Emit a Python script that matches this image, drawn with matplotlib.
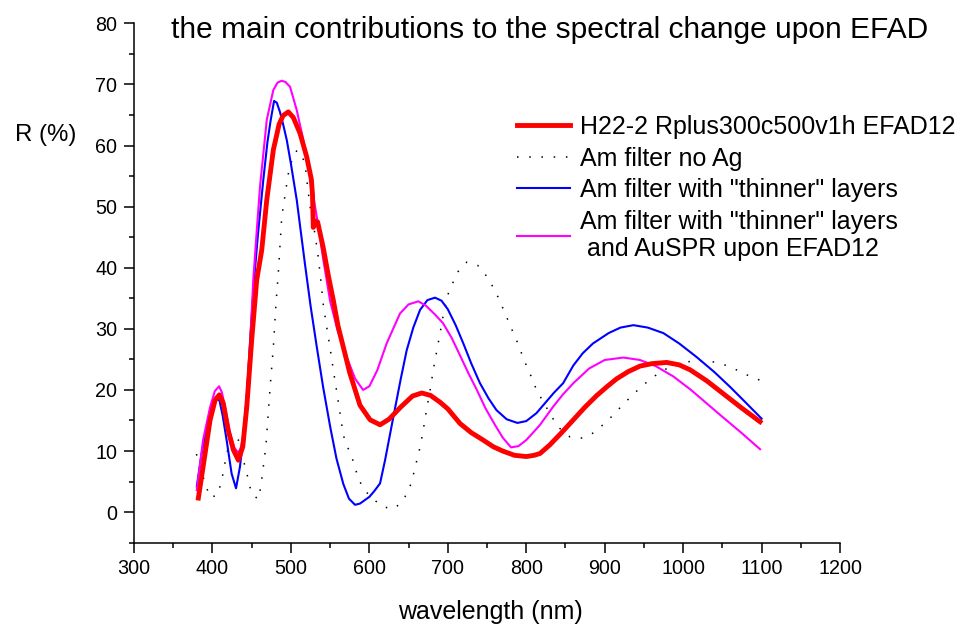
import matplotlib
matplotlib.use('Agg')
import matplotlib.pyplot as plt
from matplotlib.ticker import MultipleLocator

plt.rcParams['font.family'] = ['Liberation Sans', 'DejaVu Sans']

# H22-2 Rplus300c500v1h EFAD12 (measured, red)
wl_meas = [382, 388, 397, 403.3, 408.7, 413.8, 420, 426.6, 433, 438.6, 443.7, 450, 456.4,
           462.8, 469.2, 477.6, 485, 490, 496.7, 503, 511.6, 520, 526, 527.5, 528.5, 531,
           534, 541, 548, 554, 560, 566.8, 575, 588, 601, 613.6, 625, 640, 655, 666.8, 678,
           690, 700, 715.6, 730, 745, 758, 770, 785, 800, 810, 817.6, 830, 845, 860, 875,
           890, 902.6, 915, 930, 945, 960, 979, 995, 1008.8, 1030, 1051, 1075, 1098]
r_meas = [2.3, 7.4, 15.1, 18.3, 19.2, 17.8, 13.4, 10.2, 8.5, 10.7, 17.2, 28.2, 38.0,
          42.9, 51.1, 59.3, 63.5, 64.9, 65.5, 64.6, 62.0, 58.2, 54.5, 52.0, 46.6, 47.6,
          47.5, 43.4, 38.5, 34.7, 30.5, 27.0, 22.8, 17.5, 15.1, 14.3, 15.2, 17.2, 19.0, 19.5,
          19.1, 18.0, 16.9, 14.5, 13.0, 11.8, 10.7, 10.0, 9.3, 9.1, 9.3, 9.6, 11.0, 13.0,
          15.1, 17.2, 19.1, 20.5, 21.8, 23.0, 23.9, 24.3, 24.5, 24.1, 23.3, 21.5, 19.4, 17.0,
          14.8]

# Am filter no Ag (dotted black)
wl_noag = [379.5, 384, 388, 392, 397, 406.7, 410.4, 413.8, 416, 422, 427, 433, 440, 443.6,
           446.6, 450, 458.5, 461.5, 464.8, 468.2, 471.2, 474.2, 477.6, 481, 484, 488.3,
           492.5, 496.7, 503, 508, 512.5, 518, 521, 524.4, 529.5, 533.7, 537, 541.3, 545.6,
           550, 554, 558.4, 562.6, 566.8, 571, 577.5, 586, 593, 605, 618.7, 632.7, 644.6,
           651, 655.3, 658.2, 662.4, 668, 672.3, 677.4, 681.6, 686.7, 694.3, 700.7, 706.3,
           712.6, 724, 738, 749.6, 757.3, 764.4, 770.8, 776.4, 782.3, 788, 793.4, 798.5, 805,
           810, 817, 824.6, 832.5, 841.8, 855.8, 869.5, 882.6, 896, 910.2, 922.5, 935.7, 950,
           964, 977.8, 991.8, 1005.4, 1019.4, 1033, 1047, 1060.7, 1074.7, 1088.3, 1098]
r_noag = [9.5, 7.7, 5.8, 4.2, 2.4, 2.8, 4.6, 6.5, 8.1, 11.8, 12.6, 11.8, 8.2, 6.5,
          4.7, 3.0, 2.1, 4.1, 7.4, 11.0, 16.4, 21.6, 27.0, 34.2, 39.3, 48.3,
          51.9, 55.4, 58.5, 59.2, 58.8, 57.0, 53.5, 50.0, 46.4, 42.9, 39.3, 33.9, 30.3,
          26.8, 23.3, 19.7, 16.2, 12.6, 11.0, 9.1, 5.5, 3.7, 2.1, 0.8, 0.6, 2.3,
          3.9, 5.6, 7.4, 9.3, 12.9, 16.3, 19.9, 23.4, 26.9, 32.3, 35.8, 37.5,
          39.3, 40.9, 40.4, 38.6, 36.9, 35.1, 33.2, 31.5, 29.7, 28.0, 26.2, 24.5, 22.6,
          20.9, 19.1, 17.4, 15.6, 13.8, 12.3, 12.1, 12.7, 14.1, 15.8, 17.5, 19.2, 20.9,
          22.3, 23.4, 24.2, 24.6, 24.8, 24.7, 24.4, 23.7, 22.9, 22.0, 21.6]

# Am filter with "thinner" layers (blue)
wl_thin = [380, 386, 392.7, 398, 404.5, 409, 413, 418, 424.4, 430, 435, 437, 440, 443.7,
           448.8, 453, 458, 464.8, 470, 474, 478.5, 482, 486, 490, 494.7, 500, 507.4, 513,
           518, 525, 533, 541, 550, 558, 566.8, 574, 581.7, 588, 600, 606, 613.6,
           620, 630.6, 640, 647.6, 656, 664.6, 674, 683.7, 692, 700, 710, 719.8, 730, 741,
           752, 762, 775, 788.7, 800, 813, 825, 835, 847, 860, 872, 885, 905, 920, 936.6,
           955, 974.8, 995, 1017, 1040, 1059.8, 1080, 1100]
r_thin = [4.2, 9.5, 14.0, 17.0, 18.9, 18.2, 15.8, 11.8, 6.3, 3.9, 7.4, 9.6, 13.5, 18.9,
          29.8, 38.0, 45.5, 54.4, 60.5, 64.0, 67.3, 67.0, 65.5, 63.5, 60.9, 57.0, 51.1, 45.5,
          40.5, 33.8, 27.0, 20.5, 14.0, 8.8, 4.6, 2.2, 1.2, 1.4, 2.5, 3.4, 4.7,
          8.5, 15.6, 21.8, 26.5, 30.2, 33.1, 34.7, 35.1, 34.6, 33.2, 30.6, 27.6, 24.3, 21.1,
          18.6, 16.7, 15.2, 14.6, 14.9, 16.2, 18.0, 19.5, 21.1, 24.0, 26.0, 27.6, 29.3, 30.2,
          30.6, 30.2, 29.3, 27.6, 25.4, 22.9, 20.5, 17.9, 15.3]

# Am filter with "thinner" layers and AuSPR upon EFAD12 (magenta)
wl_au = [380, 388, 397, 403, 408.4, 412, 416, 422.4, 428, 433, 436, 439, 443.7, 447.8,
         452, 456.4, 460.6, 469.2, 477.6, 483, 488.3, 493, 498.9, 507.4, 515.8, 524.4, 533,
         541.3, 550, 560, 571, 582, 592, 600, 610, 622, 639, 650, 662.4, 672, 684, 694, 705,
         715, 726, 737, 748, 760, 770, 780.6, 790, 800, 810, 817.6, 834.5, 847, 860, 880,
         900, 923.8, 945, 965, 987.6, 1010, 1030, 1050, 1075, 1098]
r_au = [3.6, 11.8, 17.2, 19.8, 20.6, 19.6, 17.2, 12.9, 10.5, 9.7, 10.5, 12.3, 18.9, 27.0,
        38.0, 46.0, 53.3, 64.2, 69.1, 70.3, 70.6, 70.4, 69.6, 65.8, 60.9, 54.9, 48.3,
        41.3, 34.5, 29.5, 25.4, 21.8, 20.0, 20.6, 23.2, 27.6, 32.5, 34.0, 34.5, 33.8, 32.3,
        30.9, 28.5, 25.8, 22.8, 20.0, 17.0, 14.3, 12.2, 10.6, 10.8, 11.8, 13.2, 14.3, 17.3,
        19.3, 21.1, 23.5, 24.9, 25.3, 24.9, 23.9, 22.2, 20.0, 17.8, 15.6, 12.9, 10.3]

fig = plt.figure(figsize=(9.65, 6.25), dpi=100)
ax = fig.add_axes([0.1389, 0.1317, 0.7316, 0.8310])

ax.plot(wl_meas, r_meas, color='#ff0000', lw=3.5, label='H22-2 Rplus300c500v1h EFAD12', zorder=3)
ax.plot(wl_noag, r_noag, color='black', lw=1.1, dashes=(1, 7), label='Am filter no Ag')
ax.plot(wl_thin, r_thin, color='#0000ff', lw=1.5, label='Am filter with "thinner" layers')
ax.plot(wl_au, r_au, color='#ff00ff', lw=1.5,
        label='Am filter with "thinner" layers\n and AuSPR upon EFAD12')

ax.set_xlim(300, 1200)
ax.set_ylim(-5, 80)
ax.xaxis.set_major_locator(MultipleLocator(100))
ax.xaxis.set_minor_locator(MultipleLocator(50))
ax.yaxis.set_major_locator(MultipleLocator(10))
ax.yaxis.set_minor_locator(MultipleLocator(5))
ax.set_yticks([0, 10, 20, 30, 40, 50, 60, 70, 80])

ax.spines['top'].set_visible(False)
ax.spines['right'].set_visible(False)
for s in ('left', 'bottom'):
    ax.spines[s].set_linewidth(1.1)
ax.tick_params(which='major', direction='out', length=7, width=1.1, labelsize=14.2, pad=5)
ax.tick_params(which='minor', direction='out', length=3.5, width=1.1)

fig.text(0.57, 0.952, 'the main contributions to the spectral change upon EFAD',
         ha='center', va='center', fontsize=21.5)
fig.text(0.047, 0.784, 'R (%)', ha='center', va='center', fontsize=17.3)
fig.text(0.508, 0.021, 'wavelength (nm)', ha='center', va='center', fontsize=18)

ax.legend(loc='upper left', bbox_to_anchor=(0.536, 0.816), bbox_transform=fig.transFigure,
          frameon=False, fontsize=18, handlelength=2.1, handletextpad=0.4,
          labelspacing=0.3, borderpad=0, borderaxespad=0)

fig.savefig('out.png', dpi=100)
